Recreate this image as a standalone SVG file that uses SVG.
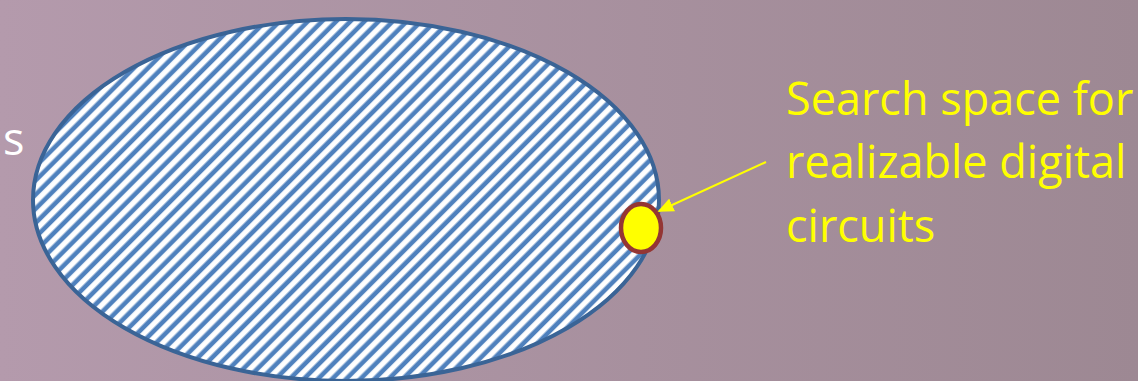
<svg xmlns="http://www.w3.org/2000/svg" width="1138" height="381" viewBox="0 0 1138 381">
  <defs>
    <linearGradient id="bg" x1="0" y1="0" x2="1" y2="0">
      <stop offset="0" stop-color="#b49aac"/>
      <stop offset="1" stop-color="#9d8893"/>
    </linearGradient>
    <pattern id="stripes" width="10" height="10" patternUnits="userSpaceOnUse" patternTransform="rotate(45)">
      <rect width="10" height="10" fill="#ffffff"/>
      <rect x="0.5" width="4.6" height="10" fill="#4f81bd"/>
    </pattern>
    <marker id="arrow" viewBox="0 0 10 10" refX="9" refY="5" markerWidth="16" markerHeight="14" markerUnits="userSpaceOnUse" orient="auto" preserveAspectRatio="none">
      <path d="M0,0 L10,5 L0,10 z" fill="#ffff00"/>
    </marker>
    <style>
      .label { font-family: "Open Sans", "Noto Sans", sans-serif; font-size: 45px; fill: #ffff00; }
      .white { font-family: "Open Sans", "Noto Sans", sans-serif; font-size: 45px; fill: #ffffff; }
    </style>
  </defs>
  <rect width="1138" height="381" fill="url(#bg)"/>
  <g id="space">
    <ellipse cx="346" cy="200" rx="313" ry="181" fill="url(#stripes)" stroke="#3a6496" stroke-width="4"/>
  </g>
  <g id="left-label">
    <text class="white" x="3" y="155">s</text>
  </g>
  <g id="realizable">
    <ellipse cx="641" cy="228" rx="20" ry="24" fill="#ffff00" stroke="#943634" stroke-width="4.5"/>
  </g>
  <g id="connectors">
    <line x1="766" y1="162" x2="659" y2="211" stroke="#ffff00" stroke-width="2" marker-end="url(#arrow)"/>
  </g>
  <g id="caption">
    <text class="label" x="786" y="115">Search space for</text>
    <text class="label" x="786" y="178">realizable digital</text>
    <text class="label" x="786" y="242">circuits</text>
  </g>
</svg>
